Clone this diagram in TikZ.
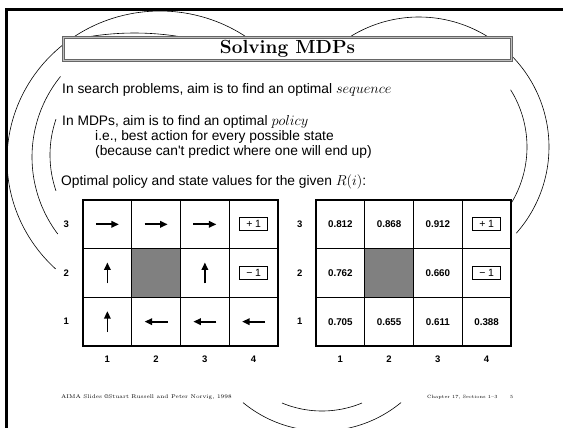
\documentclass[tikz,border=0pt]{standalone}
\usepackage{fontspec}
\newfontfamily\hv{Liberation Sans}
\usetikzlibrary{arrows.meta,calc}
\tikzset{
  deco/.style={line width=0.6pt},
  cell/.style={draw, line width=1.1pt, minimum width=48.75pt, minimum height=48.67pt, inner sep=0, anchor=center},
  dark/.style={cell, fill=black!50},
  pol/.style={line width=1.7pt, -{Triangle[length=7.5pt,width=6.5pt]}},
  body/.style={anchor=base west, inner sep=0, font=\hv\fontsize{13.8}{16}\selectfont},
  lab/.style={inner sep=0, font=\hv\bfseries\fontsize{9.5}{10}\selectfont},
  val/.style={inner sep=0, font=\hv\bfseries\fontsize{9.8}{10}\selectfont},
  term/.style={draw, line width=1pt, minimum width=28pt, minimum height=13pt, inner sep=0, font=\hv\fontsize{10.5}{11}\selectfont},
  foot/.style={anchor=base west, inner sep=0, font=\fontsize{5.4}{6}\selectfont},
  footb/.style={anchor=base west, inner sep=0, font=\fontsize{4.7}{6}\selectfont},
  titlebox/.style={draw=black!60, double=black!25, double distance=1.2pt, line width=0.7pt, fill=white, minimum width=447.5pt, minimum height=22.5pt, inner sep=0, font=\bfseries\fontsize{19}{22}\selectfont},
}
\begin{document}
\begin{tikzpicture}[x=1pt,y=-1pt]
\useasboundingbox (0,0) rectangle (563,428);
\fill[white] (0,0) rectangle (563,428);
% decorative arcs, left group
\draw[deco] plot[domain=53:227, samples=90, variable=\t] ({160+153*cos(\t)}, {160-149*sin(\t)});
\draw[deco] plot[domain=141:217, samples=50, variable=\t] ({160+128*cos(\t)}, {157-128*sin(\t)});
\draw[deco] plot[domain=78:102, samples=30, variable=\t] ({134.5+285*cos(\t)}, {318-285*sin(\t)});
\draw[deco] plot[domain=161:199, samples=30, variable=\t] ({160+110*cos(\t)}, {155-110*sin(\t)});
% right group
\draw[deco] plot[domain=-41.5:125, samples=90, variable=\t] ({419+130*cos(\t)}, {147-130*sin(\t)});
\draw[deco] plot[domain=-31:32, samples=40, variable=\t] ({419+108*cos(\t)}, {147-108*sin(\t)});
% bottom group
\draw[deco] plot[domain=230.4:309.6, samples=50, variable=\t] ({322+124*cos(\t)}, {307-124*sin(\t)});
\draw[deco] plot[domain=247.4:292.6, samples=40, variable=\t] ({322+104*cos(\t)}, {307-104*sin(\t)});
% slide border
\draw[line width=3pt] (6,428) -- (6,10) -- (563,10);
% title
\node[titlebox] (title) at (287.5,49) {Solving MDPs};
% body text
\node[body] (t1) at (62,94) {In search problems, aim is to find an optimal $sequence$};
\node[body] (t2) at (62,126) {In MDPs, aim is to find an optimal $policy$};
\node[body] (t3) at (95,140.5) {i.e., best action for every possible state};
\node[body] (t4) at (95,155) {(because can't predict where one will end up)};
\node[body] (t5) at (61,185) {Optimal policy and state values for the given $R(i)$:};
% grids
\foreach \c in {1,...,4}{\foreach \r in {1,2,3}{
  \node[cell] (L\c\r) at ({83+48.75*(\c-0.5)},{346-48.67*(\r-0.5)}) {};
  \node[cell] (R\c\r) at ({316+48.75*(\c-0.5)},{346-48.67*(\r-0.5)}) {};
}}
\node[dark] (Ld) at (L22) {};
\node[dark] (Rd) at (R22) {};
% labels
\foreach \r in {1,2,3}{
  \node[lab] (ll\r) at ($(L1\r)+(-41,0)$) {\r};
  \node[lab] (rl\r) at ($(R1\r)+(-40.5,0)$) {\r};
}
\foreach \c in {1,...,4}{
  \node[lab] (lc\c) at ({83+48.75*(\c-0.5)},359) {\c};
  \node[lab] (rc\c) at ({316+48.75*(\c-0.5)},359) {\c};
}
% policy arrows
\draw[pol] ([xshift=-11.5pt]L13.center) -- ([xshift=11.5pt]L13.center);
\draw[pol] ([xshift=-11.5pt]L23.center) -- ([xshift=11.5pt]L23.center);
\draw[pol] ([xshift=-11.5pt]L33.center) -- ([xshift=11.5pt]L33.center);
\draw[pol] ([yshift=-10.5pt]L12.center) -- ([yshift=10.5pt]L12.center);
\draw[pol] ([yshift=-10.5pt]L32.center) -- ([yshift=10.5pt]L32.center);
\draw[pol] ([yshift=-10.5pt]L11.center) -- ([yshift=10.5pt]L11.center);
\draw[pol] ([xshift=11.5pt]L21.center) -- ([xshift=-11.5pt]L21.center);
\draw[pol] ([xshift=11.5pt]L31.center) -- ([xshift=-11.5pt]L31.center);
\draw[pol] ([xshift=11.5pt]L41.center) -- ([xshift=-11.5pt]L41.center);
\node[term] (Lp) at (L43) {+\hspace{2.5pt}1};
\node[term] (Lm) at (L42) {−\hspace{2.5pt}1};
% values
\node[val] (v13) at (R13) {0.812};
\node[val] (v23) at (R23) {0.868};
\node[val] (v33) at (R33) {0.912};
\node[term] (Rp) at (R43) {+\hspace{2.5pt}1};
\node[val] (v12) at (R12) {0.762};
\node[val] (v32) at (R32) {0.660};
\node[term] (Rm) at (R42) {−\hspace{2.5pt}1};
\node[val] (v11) at (R11) {0.705};
\node[val] (v21) at (R21) {0.655};
\node[val] (v31) at (R31) {0.611};
\node[val] (v41) at (R41) {0.388};
% footer
\node[foot] (f1) at (61,398) {AIMA Slides \textcopyright Stuart Russell and Peter Norvig, 1998};
\node[footb] (f2) at (427,398) {Chapter 17, Sections 1--3};
\node[footb] (f3) at (510,398) {5};
\end{tikzpicture}
\end{document}
